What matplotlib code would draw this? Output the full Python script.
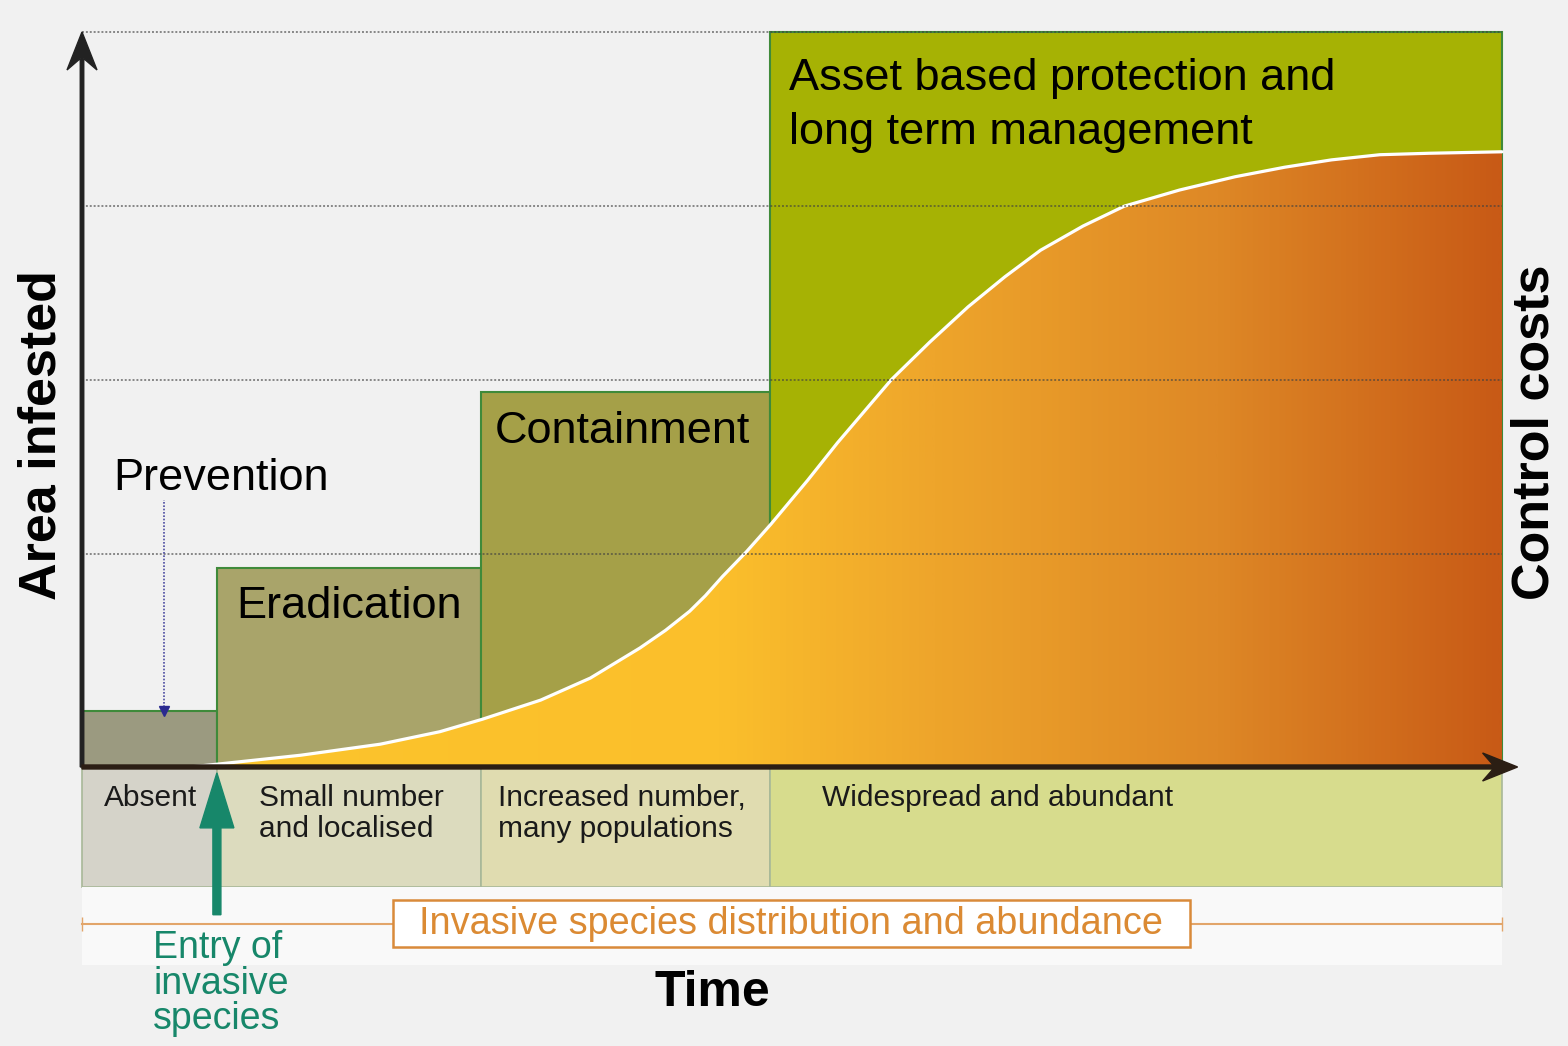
import numpy as np
import matplotlib
matplotlib.use("Agg")
import matplotlib.pyplot as plt
from matplotlib.colors import LinearSegmentedColormap
from matplotlib.patches import Rectangle

plt.rcParams['font.family'] = ['Liberation Sans', 'DejaVu Sans']

# management stages (time 0-100, cost 0-100)
stage_names = ["Prevention", "Eradication", "Containment",
               "Asset based protection and\nlong term management"]
stage_start = [0, 9.5, 28.1, 48.45]
stage_end = [9.5, 28.1, 48.45, 100]
stage_cost = [7.6, 27.1, 51.0, 100]
stage_colors = ["#9b9a80", "#a9a46a", "#a5a048", "#a6b204"]

# abundance categories under the time axis
abund_names = ["Absent", "Small number\nand localised",
               "Increased number,\nmany populations", "Widespread and abundant"]
abund_colors = ["#d5d3c9", "#dcdbbe", "#e0dcb0", "#d7dc8d"]

# area infested curve
curve_time = [7.6, 9.6, 15.4, 21.0, 25.2, 28.2, 32.3, 35.8, 39.3, 41.1, 42.8, 43.9,
              45.1, 46.8, 48.5, 51.1, 53.2, 55.1, 57.0, 59.7, 62.4, 65.0, 67.5,
              70.5, 73.4, 77.3, 81.2, 84.7, 88.0, 91.4, 94.9, 100]
curve_area = [0, 0.4, 1.6, 3.1, 4.8, 6.5, 9.1, 12.1, 16.2, 18.6, 21.2, 23.3,
              25.9, 29.3, 33.0, 39.0, 44.1, 48.4, 52.7, 57.8, 62.6, 66.7, 70.3,
              73.6, 76.3, 78.5, 80.3, 81.6, 82.6, 83.3, 83.5, 83.7]

grid_levels = [29.0, 52.7, 76.3, 100]

fig = plt.figure(figsize=(15.68, 10.46), dpi=100)
fig.patch.set_facecolor("#f1f1f1")
ax = fig.add_axes([0, 0, 1, 1])
ax.set_xlim(-5.775, 104.65)
ax.set_ylim(-37.96, 104.35)
ax.axis("off")

# stage boxes
widths = np.array(stage_end) - np.array(stage_start)
ax.bar(stage_start, stage_cost, width=widths, align="edge", color=stage_colors,
       edgecolor="#3f8a3a", linewidth=1.5, zorder=1)
for i, name in enumerate(stage_names):
    if i == 0:
        ax.text(2.2, 39.2, name, fontsize=32.5, va="center", ha="left", zorder=6)
    elif i == 1:
        ax.text(stage_start[i] + 1.35, 21.9, name, fontsize=32.5, va="center", zorder=6)
    elif i == 2:
        ax.text(stage_start[i] + 1.0, 45.6, name, fontsize=32.5, va="center", zorder=6)
    else:
        ax.text(stage_start[i] + 1.35, 90.0, name, fontsize=32.5, va="center",
                linespacing=1.42, zorder=6)

# prevention pointer
ax.vlines(5.8, 8.2, 36.3, colors="#4a4aa0", linestyles=(0, (1, 1)), linewidth=1.2, zorder=6)
ax.plot([5.8], [7.6], marker="v", color="#2a2a90", markersize=7, zorder=6)

# abundance strip
ax.bar(stage_start, [-16.3] * 4, width=widths, align="edge", color=abund_colors,
       edgecolor="#a8b898", linewidth=1.2, zorder=1)
for i, name in enumerate(abund_names):
    xs = [1.55, 12.5, 29.3, 52.1][i]
    ax.text(xs, -2.3, name, fontsize=21.5, va="top", ha="left",
            linespacing=1.15, color="#1a1a1a", zorder=6)

# gradient filled curve
cmap = LinearSegmentedColormap.from_list("inv", [
    (0.0, "#fcc62d"), (0.45, "#fbbf2b"), (0.6, "#eea52b"),
    (0.8, "#de8826"), (1.0, "#c85a16")])
grad = np.linspace(0, 1, 512).reshape(1, -1)
img = ax.imshow(grad, cmap=cmap, extent=[0, 100, 0, 84], aspect="auto",
                origin="lower", zorder=2)
poly = ax.fill_between(curve_time, curve_area, 0, color="none", zorder=2)
img.set_clip_path(poly.get_paths()[0], transform=ax.transData)
ax.plot(curve_time, curve_area, color="white", linewidth=2.3, zorder=3,
        solid_capstyle="round", solid_joinstyle="round")

# dotted gridlines
ax.hlines(grid_levels, 0, 100, colors="#404040", linestyles=(0, (1, 1)),
          linewidth=1.4, alpha=0.6, zorder=4)

# axes arrows
ax.arrow(0, 0, 0, 100, width=3.5 / 14.2, head_width=30 / 14.2, head_length=38 / 7.35,
         length_includes_head=True, overhang=0.3, color="#222222", zorder=5)
ax.arrow(0, 0, 101.1, 0, width=4 / 7.35, head_width=28 / 7.35, head_length=35 / 14.2,
         length_includes_head=True, overhang=0.3, color="#2b1e14", zorder=5)

ax.text(-2.82, 45.2, "Area infested", rotation=90, fontsize=37.5, fontweight="bold",
        ha="center", va="center", zorder=6)
ax.text(102.3, 45.6, "Control costs", rotation=90, fontsize=37.5, fontweight="bold",
        ha="center", va="center", zorder=6)

# distribution band
ax.add_patch(Rectangle((0, -26.9), 100, 10.6, facecolor="#f9f9f9", edgecolor="none", zorder=1))
ax.plot([0, 100], [-21.4, -21.4], color="#e2a56a", linewidth=1.5, marker="|",
        markersize=10, zorder=2)
ax.add_patch(Rectangle((21.9, -24.5), 56.1, 6.4, facecolor="white",
                       edgecolor="#d98a3a", linewidth=1.8, zorder=3))
ax.text(49.95, -21.3, "Invasive species distribution and abundance", fontsize=27.3,
        color="#db8a33", ha="center", va="center", zorder=6)

# entry arrow
ax.arrow(9.5, -20.1, 0, 19.3, width=8 / 14.2, head_width=34 / 14.2, head_length=55 / 7.35,
         length_includes_head=True, color="#17876a", zorder=6)
ax.text(5.0, -22.2, "Entry of\ninvasive\nspecies", fontsize=27, color="#17876a",
        ha="left", va="top", linespacing=0.98, zorder=6)

ax.text(44.4, -30.75, "Time", fontsize=36, fontweight="bold", ha="center", va="center")

fig.savefig("out.png", dpi=100, facecolor=fig.get_facecolor())
